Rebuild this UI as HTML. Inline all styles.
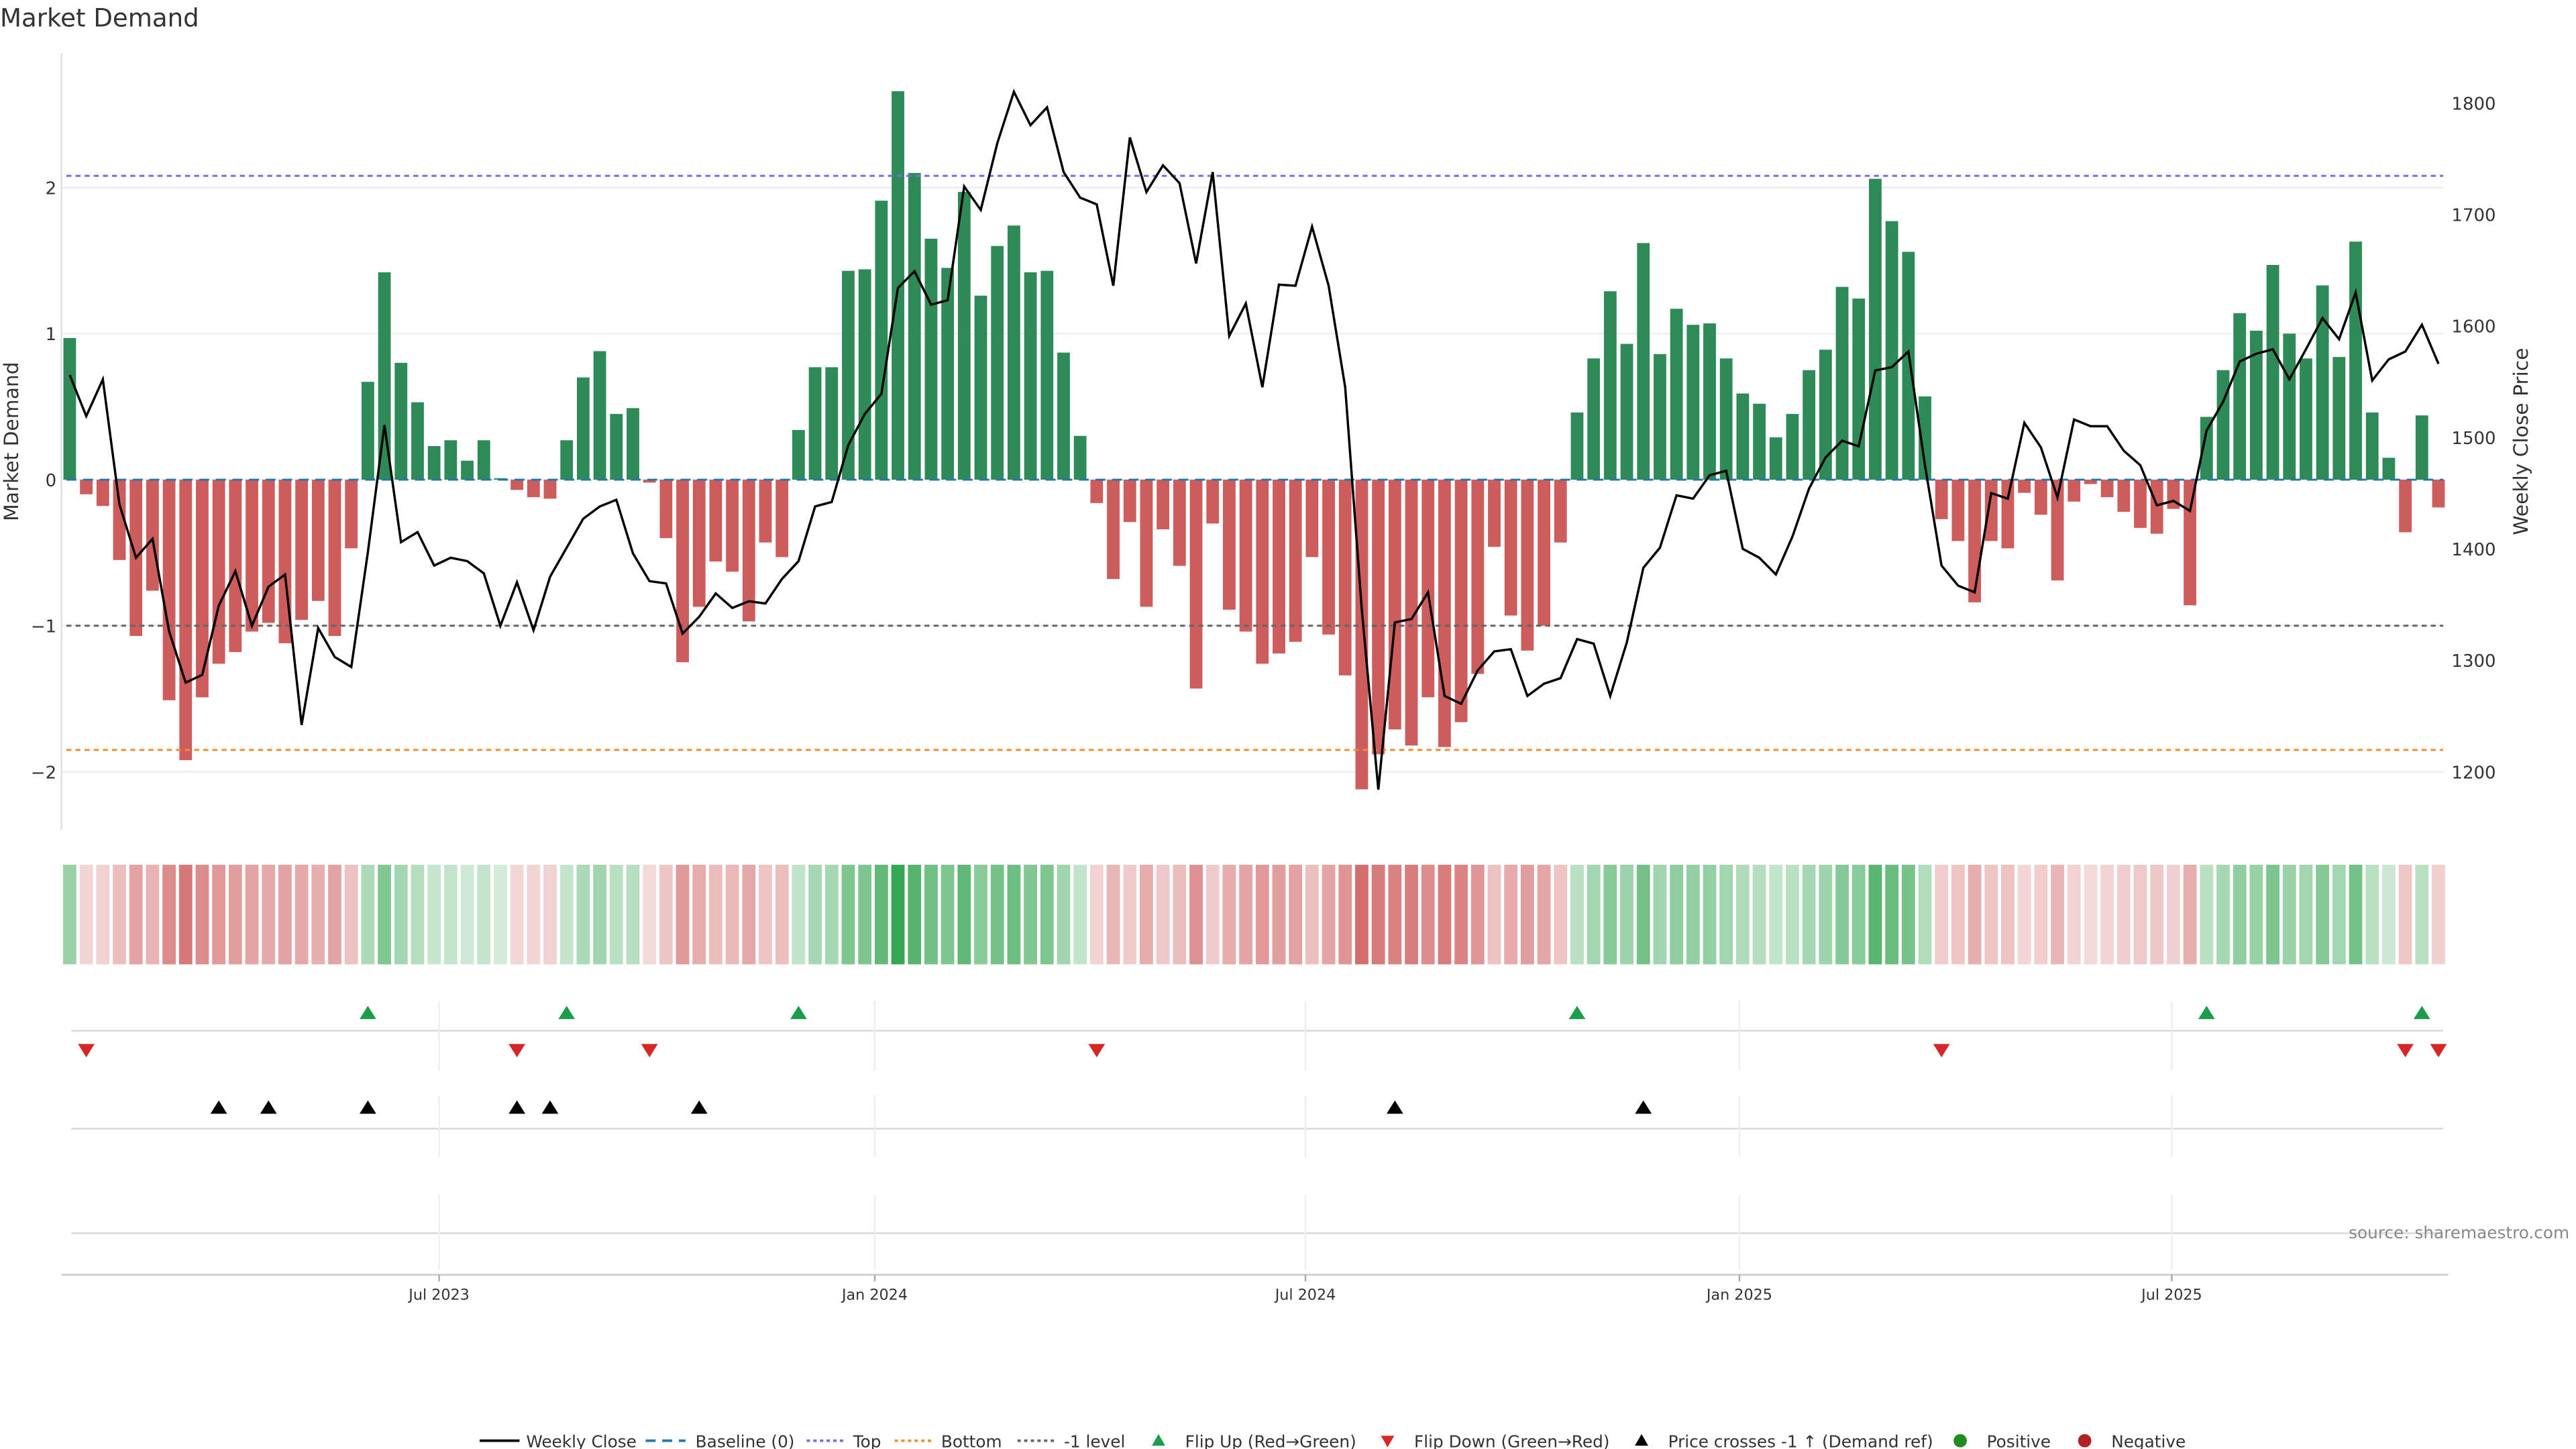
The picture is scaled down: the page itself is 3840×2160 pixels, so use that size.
<!DOCTYPE html>
<html><head><meta charset="utf-8"><title>Market Demand</title>
<style>
html,body{margin:0;padding:0;background:#fff;}
svg{display:block;font-family:"DejaVu Sans","Liberation Sans",sans-serif;}
</style></head>
<body>
<svg id="chart" xmlns="http://www.w3.org/2000/svg" width="3840" height="2160" viewBox="0 0 1552 873" preserveAspectRatio="none">
<text x="0" y="16" font-size="15" fill="#333">Market Demand</text>
<g id="grid"></g>
<g id="bars"></g>
<g id="lines"></g>
<g id="price"></g>
<g id="heat"></g>
<g id="markers"></g>
<g id="axes"></g>
<text x="1548" y="746" font-size="10" fill="#888" text-anchor="end">source: sharemaestro.com</text>
<g id="legend"></g>
</svg>
<script>
const demand = [0.97,-0.10,-0.18,-0.55,-1.07,-0.76,-1.51,-1.92,-1.49,-1.26,-1.18,-1.04,-0.98,-1.12,-0.96,-0.83,-1.07,-0.47,0.67,1.42,0.80,0.53,0.23,0.27,0.13,0.27,0.01,-0.07,-0.12,-0.13,0.27,0.70,0.88,0.45,0.49,-0.02,-0.40,-1.25,-0.87,-0.56,-0.63,-0.97,-0.43,-0.53,0.34,0.77,0.77,1.43,1.44,1.91,2.66,2.10,1.65,1.45,1.97,1.26,1.60,1.74,1.42,1.43,0.87,0.30,-0.16,-0.68,-0.29,-0.87,-0.34,-0.59,-1.43,-0.30,-0.89,-1.04,-1.26,-1.19,-1.11,-0.53,-1.06,-1.34,-2.12,-1.88,-1.71,-1.82,-1.49,-1.83,-1.66,-1.33,-0.46,-0.93,-1.17,-1.00,-0.43,0.46,0.83,1.29,0.93,1.62,0.86,1.17,1.06,1.07,0.83,0.59,0.52,0.29,0.45,0.75,0.89,1.32,1.24,2.06,1.77,1.56,0.57,-0.27,-0.42,-0.84,-0.42,-0.47,-0.09,-0.24,-0.69,-0.15,-0.03,-0.12,-0.22,-0.33,-0.37,-0.20,-0.86,0.43,0.75,1.14,1.02,1.47,1.00,0.83,1.33,0.84,1.63,0.46,0.15,-0.36,0.44,-0.19];
const closes = [1556,1519,1552,1440,1392,1409,1326,1280,1287,1349,1380,1331,1366,1377,1242,1329,1303,1294,1397,1511,1406,1415,1385,1392,1389,1378,1331,1370,1327,1375,1401,1427,1438,1444,1396,1371,1369,1324,1339,1360,1347,1353,1351,1373,1389,1438,1442,1493,1521,1539,1634,1649,1619,1623,1725,1704,1764,1810,1780,1796,1738,1715,1709,1636,1769,1720,1744,1728,1656,1738,1591,1620,1545,1637,1636,1689,1636,1545,1346,1184,1334,1337,1361,1268,1261,1291,1308,1310,1268,1279,1284,1319,1315,1268,1316,1383,1401,1448,1445,1466,1470,1400,1392,1377,1411,1454,1482,1497,1492,1560,1563,1577,1475,1385,1367,1361,1450,1445,1513,1491,1446,1516,1510,1510,1488,1475,1439,1443,1434,1506,1532,1568,1575,1579,1552,1579,1607,1588,1630,1551,1570,1577,1601,1566];
const flipUp = [18,30,44,91,129,142];
const flipDown = [1,27,35,62,113,141,143];
const priceCross = [9,12,18,27,29,38,80,95];
const leftTicks = [2,1,0,-1,-2];
const leftTickLabels = ["2","1","0","\u22121","\u22122"];
const rightTicks = [1800,1700,1600,1500,1400,1300,1200];
const dateTickIdx = [22.3,48.6,74.6,100.8,126.9];
const dateTickLabels = ["Jul 2023","Jan 2024","Jul 2024","Jan 2025","Jul 2025"];
const topLevel = [2.08];
const bottomLevel = [-1.85];
const minusOneLevel = [-1];

const NS="http://www.w3.org/2000/svg";
function el(tag,attrs,parent){const e=document.createElementNS(NS,tag);for(const k in attrs)e.setAttribute(k,attrs[k]);parent.appendChild(e);return e;}
const X0=42, STEP=9.98, L=37, R=1472;
const xs = i => X0 + i*STEP;
const yL = v => 289 - 88*v;
const yR = p => 62 + (1800-p)*403/600;

const grid=document.getElementById('grid');
leftTicks.forEach(v=>{const l=el('line',{x1:L,x2:R,y1:yL(v),y2:yL(v),stroke:'#eeeeee','stroke-width':1},grid);

});
// panel separators
[[621],[680],[743]].forEach(a=>{const l=el('line',{x1:43,x2:R,y1:a[0],y2:a[0],stroke:'#d8d8d8','stroke-width':1},grid);

});
dateTickIdx.forEach(d=>{const x=xs(d);
[[603,645],[660,697],[720,765]].forEach(s=>{const l=el('line',{x1:x,x2:x,y1:s[0],y2:s[1],stroke:'#eeeeee','stroke-width':1},grid);

});});

const bars=document.getElementById('bars');
demand.forEach((v,i)=>{const y=Math.min(yL(v),yL(0));const h=Math.abs(yL(v)-yL(0));
const r=el('rect',{x:xs(i)-3.8,y:y,width:7.6,height:Math.max(h,0.3),fill:v>=0?'#2e8b57':'#cd5c5c'},bars);

});

const lines=document.getElementById('lines');
function hline(v,color,name,dash){const l=el('line',{x1:L+3,x2:R,y1:yL(v),y2:yL(v),stroke:color,'stroke-width':1.2,'stroke-dasharray':dash},lines);

}
hline(0,'#1f77b4','baseline-zero','6,4');
hline(topLevel[0],'#7b68ee','top-level','3,2.5');
hline(bottomLevel[0],'#f28e2b','bottom-level','3,2.5');
hline(minusOneLevel[0],'#666666','minus-one-level','3,2.5');

const price=document.getElementById('price');
const pl=el('polyline',{points:closes.map((p,i)=>xs(i).toFixed(2)+','+yR(p).toFixed(2)).join(' '),fill:'none',stroke:'#000','stroke-width':1.4,'stroke-linejoin':'miter'},price);



const heat=document.getElementById('heat');
demand.forEach((v,i)=>{const t=Math.min(Math.abs(v)/2.7,1);const a=0.2+0.75*t;
const c=el('rect',{x:xs(i)-4,y:521,width:8,height:60,fill:v>=0?'rgb(40,160,70)':'rgb(200,70,70)','fill-opacity':a.toFixed(3)},heat);

});

const mk=document.getElementById('markers');
function tri(i,y,up,color,name){const x=xs(i);const pts=up?`${x-5},${y+4} ${x+5},${y+4} ${x},${y-4}`:`${x-5},${y-4} ${x+5},${y-4} ${x},${y+4}`;
const p=el('polygon',{points:pts,fill:color},mk);

}
flipUp.forEach(i=>tri(i,610,true,'#1a9e4a','flip-up-marker'));
flipDown.forEach(i=>tri(i,633,false,'#d62728','flip-down-marker'));
priceCross.forEach(i=>tri(i,667,true,'#000','price-cross-marker'));

const ax=document.getElementById('axes');
let a1=el('line',{x1:L,x2:L,y1:32,y2:500,stroke:'#e0e0e0','stroke-width':1},ax);


let a2=el('line',{x1:L,x2:1475,y1:768,y2:768,stroke:'#d0d0d0','stroke-width':1.2},ax);


leftTicks.forEach((v,k)=>{const t=el('text',{x:34,y:yL(v)+4,'font-size':10.5,fill:'#333','text-anchor':'end'},ax);t.textContent=leftTickLabels[k];

});
rightTicks.forEach(p=>{const t=el('text',{x:1477,y:yR(p)+4,'font-size':10.5,fill:'#333'},ax);t.textContent=p;

});
dateTickIdx.forEach((d,k)=>{const x=xs(d);const tk=el('line',{x1:x,x2:x,y1:768,y2:772,stroke:'#aaa'},ax);


const t=el('text',{x:x,y:783,'font-size':9,fill:'#333','text-anchor':'middle'},ax);t.textContent=dateTickLabels[k];

});
let yt=el('text',{x:0,y:0,'font-size':12,fill:'#333','text-anchor':'middle',transform:'translate(11,266) rotate(-90)'},ax);yt.textContent='Market Demand';


let yt2=el('text',{x:0,y:0,'font-size':12,fill:'#333','text-anchor':'middle',transform:'translate(1523,266) rotate(-90)'},ax);yt2.textContent='Weekly Close Price';



const lg=document.getElementById('legend');
const LY=868;
function ltext(x,s){const t=el('text',{x:x,y:LY+4,'font-size':10,fill:'#333'},lg);t.textContent=s;

}
function lline(x,color,dash,w){const l=el('line',{x1:x,x2:x+24,y1:LY,y2:LY,stroke:color,'stroke-width':w,'stroke-dasharray':dash},lg);

}
lline(289,'#000','none',1.5);ltext(317,'Weekly Close');
lline(389,'#1f77b4','6,4',1.5);ltext(419,'Baseline (0)');
lline(486,'#7b68ee','2,2',1.5);ltext(514,'Top');
lline(539,'#f28e2b','2,2',1.5);ltext(567,'Bottom');
lline(613,'#666','2,2',1.5);ltext(641,'-1 level');
function lmark(x,shape,color){let e;
if(shape==='up')e=el('polygon',{points:`${x-4},${LY+3} ${x+4},${LY+3} ${x},${LY-4}`,fill:color},lg);
else if(shape==='down')e=el('polygon',{points:`${x-4},${LY-3} ${x+4},${LY-3} ${x},${LY+4}`,fill:color},lg);
else e=el('circle',{cx:x,cy:LY,r:4,fill:color},lg);

}
lmark(698,'up','#1a9e4a');ltext(714,'Flip Up (Red\u2192Green)');
lmark(836,'down','#d62728');ltext(852,'Flip Down (Green\u2192Red)');
lmark(989,'up','#000');ltext(1005,'Price crosses -1 \u2191 (Demand ref)');
lmark(1181,'c','#228b22');ltext(1197,'Positive');
lmark(1256,'c','#b22222');ltext(1272,'Negative');
</script>
</body></html>
